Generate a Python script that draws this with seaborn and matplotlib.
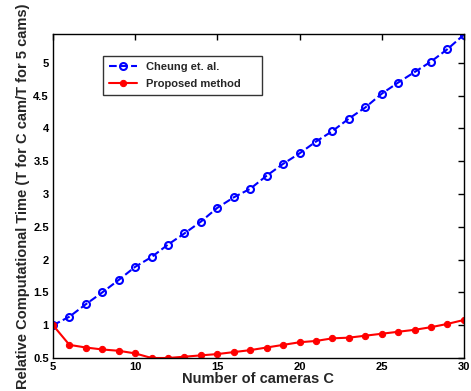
import matplotlib
matplotlib.use("Agg")
import matplotlib.pyplot as plt
import matplotlib.ticker as mticker
import seaborn as sns
import pandas as pd
import numpy as np

# values
cams = list(range(5, 31))
cheung = [1.00, 1.13, 1.32, 1.50, 1.69, 1.89, 2.04, 2.23, 2.40, 2.58, 2.79, 2.95,
          3.08, 3.28, 3.46, 3.62, 3.80, 3.96, 4.15, 4.32, 4.53, 4.70, 4.86, 5.02,
          5.21, 5.43]
proposed = [1.00, 0.70, 0.66, 0.63, 0.61, 0.57, 0.50, 0.50, 0.52, 0.54, 0.56, 0.59,
            0.62, 0.66, 0.70, 0.74, 0.76, 0.80, 0.81, 0.84, 0.87, 0.90, 0.93, 0.97,
            1.02, 1.08]

df = pd.DataFrame({
    "cams": cams * 2,
    "time": cheung + proposed,
    "method": ["Cheung et. al."] * len(cams) + ["Proposed method"] * len(cams),
})

sns.set_style("white")
plt.rcParams['font.family'] = ['Liberation Sans', 'DejaVu Sans']
plt.rcParams['font.weight'] = 'bold'

fig = plt.figure(figsize=(4.71, 3.91), dpi=100)
ax = fig.add_axes([0.1125, 0.0844, 0.8725, 0.8286])

sub = df[df.method == "Cheung et. al."]
sns.lineplot(data=sub, x="cams", y="time", ax=ax, color="#0000ff", linestyle="--",
             linewidth=1.5, marker="o", markersize=5, markerfacecolor="none",
             markeredgecolor="#0000ff", markeredgewidth=1.5, label="Cheung et. al.")
sub = df[df.method == "Proposed method"]
sns.lineplot(data=sub, x="cams", y="time", ax=ax, color="#ff0000", linestyle="-",
             linewidth=1.5, marker="o", markersize=4.5, markerfacecolor="#ff0000",
             markeredgecolor="#ff0000", label="Proposed method")

ax.set_xlim(5, 30)
ax.set_ylim(0.5, 5.44)
ax.set_xticks(range(5, 31, 5))
ax.set_yticks(np.arange(0.5, 5.01, 0.5))
ax.yaxis.set_major_formatter(mticker.FuncFormatter(lambda v, p: f"{v:g}"))
ax.tick_params(direction="in", length=4, width=1, top=True, right=True,
               labelsize=8, pad=3, colors="black")
for lab in ax.get_xticklabels() + ax.get_yticklabels():
    lab.set_fontweight("bold")
for s in ax.spines.values():
    s.set_color("black")
    s.set_linewidth(1)

ax.set_xlabel("Number of cameras C", fontsize=10.5, fontweight="bold", labelpad=0)
ax.set_ylabel("Relative Computational Time (T for C cam/T for 5 cams)", fontsize=10.5,
              fontweight="bold", labelpad=2)

leg = ax.legend(loc="upper left", bbox_to_anchor=(0.1217, 0.932, 0.387, 0.0),
                mode="expand", borderaxespad=0, fontsize=8,
                frameon=True, fancybox=False, borderpad=0.55, handlelength=2.5,
                labelspacing=0.6)
leg.get_frame().set_edgecolor("black")
leg.get_frame().set_linewidth(1)
for t in leg.get_texts():
    t.set_fontweight("bold")

fig.savefig("out.png", dpi=100)
